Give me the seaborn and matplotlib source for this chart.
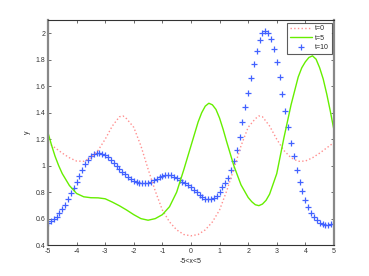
import matplotlib
matplotlib.use("Agg")
import matplotlib.pyplot as plt
import numpy as np
import pandas as pd
import seaborn as sns

# t=0 read on a 0.25 grid (plus the two peaks), t=5 on a 0.25 grid with extra
# readings near its turns, t=10 on a 0.1 grid
x_t0 = [-5.0, -4.75, -4.5, -4.25, -4.0, -3.75, -3.5, -3.25, -3.0, -2.75,
        -2.5, -2.375, -2.25, -2.0, -1.75, -1.5, -1.25, -1.0, -0.75, -0.5, -0.25,
        0.0, 0.25, 0.5, 0.75, 1.0, 1.25, 1.5, 1.75, 2.0, 2.25, 2.375,
        2.5, 2.75, 3.0, 3.25, 3.5, 3.75, 4.0, 4.25, 4.5, 4.75, 5.0]
y_t0 = [1.175, 1.135, 1.095, 1.06, 1.035, 1.033, 1.06, 1.115, 1.2, 1.3,
        1.37, 1.376, 1.355, 1.29, 1.15, 0.975, 0.81, 0.665, 0.575, 0.515, 0.48,
        0.47, 0.48, 0.515, 0.575, 0.665, 0.81, 0.975, 1.15, 1.29, 1.355, 1.376,
        1.37, 1.3, 1.2, 1.115, 1.06, 1.033, 1.035, 1.06, 1.095, 1.135, 1.175]

x_t5 = [-5.0, -4.875, -4.75, -4.625, -4.5, -4.25, -4.0, -3.75, -3.5, -3.25,
        -3.0, -2.75, -2.5, -2.25, -2.0, -1.75, -1.5, -1.25, -1.0, -0.75,
        -0.5, -0.25, 0.0, 0.25, 0.375, 0.5, 0.625, 0.75, 0.875, 1.0,
        1.125, 1.25, 1.5, 1.75, 2.0, 2.125, 2.25, 2.375, 2.5, 2.625,
        2.75, 3.0, 3.25, 3.5, 3.75, 3.875, 4.0, 4.125, 4.25, 4.375,
        4.5, 4.625, 4.75, 4.875, 5.0]
y_t5 = [1.25, 1.155, 1.07, 1.0, 0.94, 0.85, 0.79, 0.765, 0.758, 0.757,
        0.75, 0.725, 0.697, 0.665, 0.63, 0.6, 0.588, 0.6, 0.63, 0.69,
        0.8, 0.97, 1.15, 1.33, 1.4, 1.45, 1.472, 1.46, 1.425, 1.36,
        1.275, 1.18, 1.0, 0.855, 0.76, 0.728, 0.705, 0.698, 0.71, 0.738,
        0.785, 0.94, 1.21, 1.46, 1.67, 1.74, 1.785, 1.818, 1.83, 1.805,
        1.74, 1.655, 1.54, 1.41, 1.27]

x_t10 = [round(-5 + 0.1 * i, 1) for i in range(101)]
y_t10 = [0.565, 0.58, 0.595, 0.615, 0.64, 0.67, 0.705, 0.745, 0.79, 0.835,
         0.88, 0.925, 0.97, 1.01, 1.045, 1.07, 1.088, 1.097, 1.097, 1.09,
         1.078, 1.062, 1.043, 1.022, 1.0, 0.978, 0.956, 0.936, 0.917, 0.9,
         0.888, 0.878, 0.871, 0.868, 0.868, 0.872, 0.879, 0.889, 0.9, 0.911,
         0.92, 0.926, 0.928, 0.926, 0.918, 0.906, 0.893, 0.88, 0.87, 0.857,
         0.84, 0.82, 0.8, 0.777, 0.762, 0.75, 0.745, 0.745, 0.753, 0.77,
         0.8, 0.84, 0.87, 0.91, 0.965, 1.035, 1.12, 1.22, 1.33, 1.44,
         1.55, 1.66, 1.77, 1.87, 1.95, 2.0, 2.02, 2.0, 1.955, 1.88,
         1.78, 1.67, 1.545, 1.415, 1.29, 1.175, 1.07, 0.97, 0.88, 0.805,
         0.74, 0.685, 0.642, 0.61, 0.586, 0.568, 0.556, 0.551, 0.551, 0.556,
         0.562]

x_ticks = [-5, -4, -3, -2, -1, 0, 1, 2, 3, 4, 5]
y_ticks = [0.4, 0.6, 0.8, 1.0, 1.2, 1.4, 1.6, 1.8, 2.0]

df0 = pd.DataFrame({"x": x_t0, "y": y_t0})
df5 = pd.DataFrame({"x": x_t5, "y": y_t5})
df10 = pd.DataFrame({"x": x_t10, "y": y_t10})

sns.set_style("white")
plt.rcParams['font.family'] = ['Liberation Sans', 'DejaVu Sans']

fig = plt.figure(figsize=(3.69, 2.76), dpi=100)
ax = fig.add_axes([0.13, 0.112, 0.775, 0.815])

sns.lineplot(data=df0, x="x", y="y", ax=ax, color="#ff8f8f", linestyle=":",
             linewidth=1.0, label="t=0", sort=False)
sns.lineplot(data=df5, x="x", y="y", ax=ax, color="#66ee00", linewidth=1.0,
             label="t=5", sort=False)
sns.scatterplot(data=df10, x="x", y="y", ax=ax, color="#4262ff", marker="+",
                s=18, linewidth=0.9, label="t=10")

ax.set_xlim(-5, 5)
ax.set_ylim(0.4, 2.1)
ax.set_xticks(x_ticks)
ax.set_xticklabels([str(v) for v in x_ticks])
ax.set_yticks(y_ticks)
ax.set_yticklabels(["%g" % v for v in y_ticks])
ax.tick_params(direction="in", length=2.5, width=0.5, labelsize=5,
               top=True, right=True, bottom=True, left=True, pad=2,
               colors="#333333")

for side in ["top", "bottom"]:
    ax.spines[side].set_color("#333333")
    ax.spines[side].set_linewidth(0.8)
for side in ["left", "right"]:
    ax.spines[side].set_color("#888888")
    ax.spines[side].set_linewidth(1.6)

ax.set_xlabel("-5<x<5", fontsize=5, labelpad=2)
ax.set_ylabel("y", fontsize=5, labelpad=3)

leg = ax.legend(loc="upper right", fontsize=5, frameon=True, fancybox=False,
                borderpad=0.4, handlelength=3.2, labelspacing=0.35,
                handletextpad=0.4, borderaxespad=0.35)
leg.get_frame().set_edgecolor("#333333")
leg.get_frame().set_linewidth(0.8)

fig.savefig("out.png", dpi=100)
